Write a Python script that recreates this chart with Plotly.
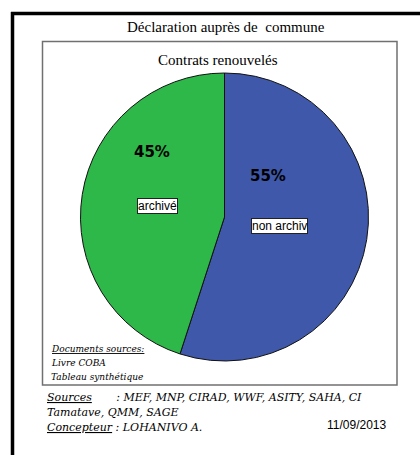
import plotly.graph_objects as go

W, H = 420, 455

categories = ["non archivé", "archivé"]
values = [55, 45]
box_labels = ["non archiv", "archivé"]
colors = ["#3F58AA", "#2EB84A"]

title_text = "Déclaration auprès de  commune"
chart_title = "Contrats renouvelés"
doc_lines = ["<u>Documents sources:</u>", "Livre COBA", "Tableau synthétique"]
source_lines = ["<u>Sources</u>       : MEF, MNP, CIRAD, WWF, ASITY, SAHA, CI",
                "Tamatave, QMM, SAGE",
                "<u>Concepteur</u> : LOHANIVO A."]
date_text = "11/09/2013"


def px(x):
    return x / W


def py(y):
    return 1 - y / H


def note(x, y, text, font, xanchor="center", **kw):
    return dict(x=px(x), y=py(y), xref="paper", yref="paper", showarrow=False,
                xanchor=xanchor, yanchor="middle", text=text, font=font, **kw)


cx, cy, r = 224.5, 217, 144

fig = go.Figure(go.Pie(
    labels=categories,
    values=values,
    sort=False,
    direction="clockwise",
    rotation=0,
    textinfo="none",
    hoverinfo="label+percent",
    marker=dict(colors=colors, line=dict(color="#111111", width=1)),
    domain=dict(x=[px(cx - r), px(cx + r)], y=[py(cy + r), py(cy - r)]),
    showlegend=False,
))

total = sum(values)
pct_pos = [(268, 176), (152, 152)]
box_pos = [(279, 226), (157, 206)]
ann = []
for v, (x, y) in zip(values, pct_pos):
    ann.append(note(x, y, "<b>%d%%</b>" % round(100 * v / total),
                    dict(family="DejaVu Sans", size=15, color="black")))
for t, (x, y) in zip(box_labels, box_pos):
    ann.append(note(x, y, t, dict(family="Liberation Sans", size=12, color="black"),
                    bgcolor="white", bordercolor="#222222", borderwidth=1, borderpad=0))

ann.append(note(226, 27, title_text, dict(family="Liberation Serif", size=15, color="black")))
ann.append(note(218, 60, chart_title, dict(family="Liberation Serif", size=15, color="black")))

for i, t in enumerate(doc_lines):
    ann.append(note(49, 349 + 14 * i, "<i>%s</i>" % t,
                    dict(family="DejaVu Serif", size=9, color="black"), xanchor="left"))
for i, t in enumerate(source_lines):
    ann.append(note(45, 397 + 15 * i, "<i>%s</i>" % t,
                    dict(family="DejaVu Serif", size=11, color="black"), xanchor="left"))
ann.append(note(356, 425, date_text, dict(family="Liberation Sans", size=12, color="black")))

shapes = [
    dict(type="line", xref="paper", yref="paper", x0=px(12.5), y0=py(12), x1=px(12.5), y1=0,
         line=dict(color="black", width=3.5), layer="above"),
    dict(type="line", xref="paper", yref="paper", x0=px(11), y0=py(13.5), x1=1, y1=py(13.5),
         line=dict(color="black", width=3.5), layer="above"),
    dict(type="rect", xref="paper", yref="paper", x0=px(42.5), y0=py(41.5), x1=px(397), y1=py(385),
         line=dict(color="#707070", width=1.5), fillcolor="rgba(0,0,0,0)", layer="below"),
]

fig.update_layout(
    width=W, height=H,
    margin=dict(l=0, r=0, t=0, b=0),
    paper_bgcolor="white",
    plot_bgcolor="white",
    annotations=ann,
    shapes=shapes,
)

fig.write_html("out.html", config={"displayModeBar": False},
               post_script="document.body.style.margin='0';document.body.style.overflow='hidden';")
